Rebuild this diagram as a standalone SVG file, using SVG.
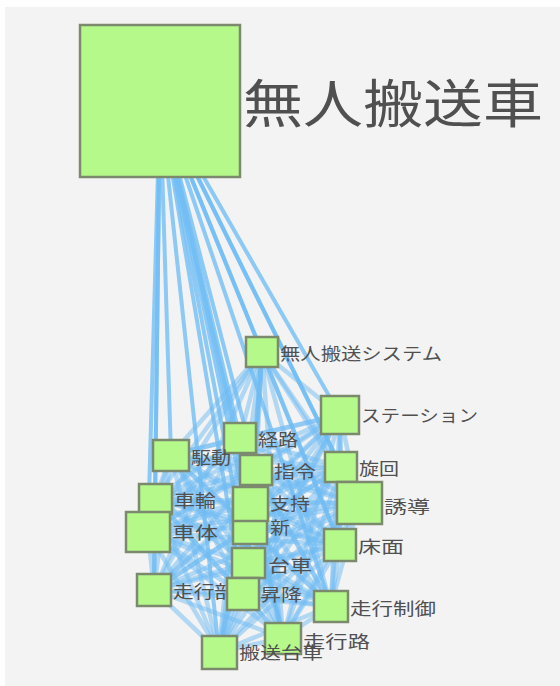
<svg xmlns="http://www.w3.org/2000/svg" width="560" height="686" viewBox="0 0 560 686">
<style>
.bg{fill:#f3f3f3}
.e{stroke:#6fbcf4;stroke-width:4.5;stroke-opacity:0.5;fill:none}
.h{stroke:#72bef5;stroke-width:4;stroke-opacity:0.8;fill:none}
.n{fill:#b5f98b;stroke:#7b8a6c;stroke-width:2.5}
.t{font-family:"Noto Sans CJK JP","Noto Sans",sans-serif;fill:#505050;font-size:17px;dominant-baseline:central}
.big{font-size:52px}
</style>
<rect x="0" y="0" width="560" height="686" fill="#ffffff"/>
<rect class="bg" x="5" y="7" width="555" height="679"/>
<g id="connectors">
<line class="h" x1="160" y1="101" x2="262" y2="352"/>
<line class="h" x1="160" y1="101" x2="340" y2="415"/>
<line class="h" x1="160" y1="101" x2="240" y2="438"/>
<line class="h" x1="160" y1="101" x2="171" y2="455"/>
<line class="h" x1="160" y1="101" x2="256" y2="470"/>
<line class="h" x1="160" y1="101" x2="341" y2="467"/>
<line class="h" x1="160" y1="101" x2="359" y2="503"/>
<line class="h" x1="160" y1="101" x2="155" y2="499"/>
<line class="h" x1="160" y1="101" x2="148" y2="532"/>
<line class="h" x1="160" y1="101" x2="250" y2="504"/>
<line class="h" x1="160" y1="101" x2="250" y2="527"/>
<line class="h" x1="160" y1="101" x2="340" y2="545"/>
<line class="h" x1="160" y1="101" x2="248" y2="563"/>
<line class="h" x1="160" y1="101" x2="154" y2="590"/>
<line class="h" x1="160" y1="101" x2="243" y2="594"/>
<line class="h" x1="160" y1="101" x2="331" y2="606"/>
<line class="h" x1="160" y1="101" x2="283" y2="638"/>
<line class="h" x1="160" y1="101" x2="219" y2="652"/>
<line class="e" x1="262" y1="352" x2="340" y2="415"/>
<line class="e" x1="262" y1="352" x2="240" y2="438"/>
<line class="e" x1="262" y1="352" x2="171" y2="455"/>
<line class="e" x1="262" y1="352" x2="256" y2="470"/>
<line class="e" x1="262" y1="352" x2="341" y2="467"/>
<line class="e" x1="262" y1="352" x2="359" y2="503"/>
<line class="e" x1="262" y1="352" x2="155" y2="499"/>
<line class="e" x1="262" y1="352" x2="148" y2="532"/>
<line class="e" x1="262" y1="352" x2="250" y2="504"/>
<line class="e" x1="262" y1="352" x2="250" y2="527"/>
<line class="e" x1="262" y1="352" x2="340" y2="545"/>
<line class="e" x1="262" y1="352" x2="248" y2="563"/>
<line class="e" x1="262" y1="352" x2="154" y2="590"/>
<line class="e" x1="262" y1="352" x2="243" y2="594"/>
<line class="e" x1="262" y1="352" x2="331" y2="606"/>
<line class="e" x1="262" y1="352" x2="283" y2="638"/>
<line class="e" x1="262" y1="352" x2="219" y2="652"/>
<line class="e" x1="340" y1="415" x2="240" y2="438"/>
<line class="e" x1="340" y1="415" x2="171" y2="455"/>
<line class="e" x1="340" y1="415" x2="256" y2="470"/>
<line class="e" x1="340" y1="415" x2="341" y2="467"/>
<line class="e" x1="340" y1="415" x2="359" y2="503"/>
<line class="e" x1="340" y1="415" x2="155" y2="499"/>
<line class="e" x1="340" y1="415" x2="148" y2="532"/>
<line class="e" x1="340" y1="415" x2="250" y2="504"/>
<line class="e" x1="340" y1="415" x2="250" y2="527"/>
<line class="e" x1="340" y1="415" x2="340" y2="545"/>
<line class="e" x1="340" y1="415" x2="248" y2="563"/>
<line class="e" x1="340" y1="415" x2="154" y2="590"/>
<line class="e" x1="340" y1="415" x2="243" y2="594"/>
<line class="e" x1="340" y1="415" x2="331" y2="606"/>
<line class="e" x1="340" y1="415" x2="283" y2="638"/>
<line class="e" x1="340" y1="415" x2="219" y2="652"/>
<line class="e" x1="240" y1="438" x2="171" y2="455"/>
<line class="e" x1="240" y1="438" x2="256" y2="470"/>
<line class="e" x1="240" y1="438" x2="341" y2="467"/>
<line class="e" x1="240" y1="438" x2="359" y2="503"/>
<line class="e" x1="240" y1="438" x2="155" y2="499"/>
<line class="e" x1="240" y1="438" x2="148" y2="532"/>
<line class="e" x1="240" y1="438" x2="250" y2="504"/>
<line class="e" x1="240" y1="438" x2="250" y2="527"/>
<line class="e" x1="240" y1="438" x2="340" y2="545"/>
<line class="e" x1="240" y1="438" x2="248" y2="563"/>
<line class="e" x1="240" y1="438" x2="154" y2="590"/>
<line class="e" x1="240" y1="438" x2="243" y2="594"/>
<line class="e" x1="240" y1="438" x2="331" y2="606"/>
<line class="e" x1="240" y1="438" x2="283" y2="638"/>
<line class="e" x1="240" y1="438" x2="219" y2="652"/>
<line class="e" x1="171" y1="455" x2="256" y2="470"/>
<line class="e" x1="171" y1="455" x2="341" y2="467"/>
<line class="e" x1="171" y1="455" x2="359" y2="503"/>
<line class="e" x1="171" y1="455" x2="155" y2="499"/>
<line class="e" x1="171" y1="455" x2="148" y2="532"/>
<line class="e" x1="171" y1="455" x2="250" y2="504"/>
<line class="e" x1="171" y1="455" x2="250" y2="527"/>
<line class="e" x1="171" y1="455" x2="340" y2="545"/>
<line class="e" x1="171" y1="455" x2="248" y2="563"/>
<line class="e" x1="171" y1="455" x2="154" y2="590"/>
<line class="e" x1="171" y1="455" x2="243" y2="594"/>
<line class="e" x1="171" y1="455" x2="331" y2="606"/>
<line class="e" x1="171" y1="455" x2="283" y2="638"/>
<line class="e" x1="171" y1="455" x2="219" y2="652"/>
<line class="e" x1="256" y1="470" x2="341" y2="467"/>
<line class="e" x1="256" y1="470" x2="359" y2="503"/>
<line class="e" x1="256" y1="470" x2="155" y2="499"/>
<line class="e" x1="256" y1="470" x2="148" y2="532"/>
<line class="e" x1="256" y1="470" x2="250" y2="504"/>
<line class="e" x1="256" y1="470" x2="250" y2="527"/>
<line class="e" x1="256" y1="470" x2="340" y2="545"/>
<line class="e" x1="256" y1="470" x2="248" y2="563"/>
<line class="e" x1="256" y1="470" x2="154" y2="590"/>
<line class="e" x1="256" y1="470" x2="243" y2="594"/>
<line class="e" x1="256" y1="470" x2="331" y2="606"/>
<line class="e" x1="256" y1="470" x2="283" y2="638"/>
<line class="e" x1="256" y1="470" x2="219" y2="652"/>
<line class="e" x1="341" y1="467" x2="359" y2="503"/>
<line class="e" x1="341" y1="467" x2="155" y2="499"/>
<line class="e" x1="341" y1="467" x2="148" y2="532"/>
<line class="e" x1="341" y1="467" x2="250" y2="504"/>
<line class="e" x1="341" y1="467" x2="250" y2="527"/>
<line class="e" x1="341" y1="467" x2="340" y2="545"/>
<line class="e" x1="341" y1="467" x2="248" y2="563"/>
<line class="e" x1="341" y1="467" x2="154" y2="590"/>
<line class="e" x1="341" y1="467" x2="243" y2="594"/>
<line class="e" x1="341" y1="467" x2="331" y2="606"/>
<line class="e" x1="341" y1="467" x2="283" y2="638"/>
<line class="e" x1="341" y1="467" x2="219" y2="652"/>
<line class="e" x1="359" y1="503" x2="155" y2="499"/>
<line class="e" x1="359" y1="503" x2="148" y2="532"/>
<line class="e" x1="359" y1="503" x2="250" y2="504"/>
<line class="e" x1="359" y1="503" x2="250" y2="527"/>
<line class="e" x1="359" y1="503" x2="340" y2="545"/>
<line class="e" x1="359" y1="503" x2="248" y2="563"/>
<line class="e" x1="359" y1="503" x2="154" y2="590"/>
<line class="e" x1="359" y1="503" x2="243" y2="594"/>
<line class="e" x1="359" y1="503" x2="331" y2="606"/>
<line class="e" x1="359" y1="503" x2="283" y2="638"/>
<line class="e" x1="359" y1="503" x2="219" y2="652"/>
<line class="e" x1="155" y1="499" x2="148" y2="532"/>
<line class="e" x1="155" y1="499" x2="250" y2="504"/>
<line class="e" x1="155" y1="499" x2="250" y2="527"/>
<line class="e" x1="155" y1="499" x2="340" y2="545"/>
<line class="e" x1="155" y1="499" x2="248" y2="563"/>
<line class="e" x1="155" y1="499" x2="154" y2="590"/>
<line class="e" x1="155" y1="499" x2="243" y2="594"/>
<line class="e" x1="155" y1="499" x2="331" y2="606"/>
<line class="e" x1="155" y1="499" x2="283" y2="638"/>
<line class="e" x1="155" y1="499" x2="219" y2="652"/>
<line class="e" x1="148" y1="532" x2="250" y2="504"/>
<line class="e" x1="148" y1="532" x2="250" y2="527"/>
<line class="e" x1="148" y1="532" x2="340" y2="545"/>
<line class="e" x1="148" y1="532" x2="248" y2="563"/>
<line class="e" x1="148" y1="532" x2="154" y2="590"/>
<line class="e" x1="148" y1="532" x2="243" y2="594"/>
<line class="e" x1="148" y1="532" x2="331" y2="606"/>
<line class="e" x1="148" y1="532" x2="283" y2="638"/>
<line class="e" x1="148" y1="532" x2="219" y2="652"/>
<line class="e" x1="250" y1="504" x2="250" y2="527"/>
<line class="e" x1="250" y1="504" x2="340" y2="545"/>
<line class="e" x1="250" y1="504" x2="248" y2="563"/>
<line class="e" x1="250" y1="504" x2="154" y2="590"/>
<line class="e" x1="250" y1="504" x2="243" y2="594"/>
<line class="e" x1="250" y1="504" x2="331" y2="606"/>
<line class="e" x1="250" y1="504" x2="283" y2="638"/>
<line class="e" x1="250" y1="504" x2="219" y2="652"/>
<line class="e" x1="250" y1="527" x2="340" y2="545"/>
<line class="e" x1="250" y1="527" x2="248" y2="563"/>
<line class="e" x1="250" y1="527" x2="154" y2="590"/>
<line class="e" x1="250" y1="527" x2="243" y2="594"/>
<line class="e" x1="250" y1="527" x2="331" y2="606"/>
<line class="e" x1="250" y1="527" x2="283" y2="638"/>
<line class="e" x1="250" y1="527" x2="219" y2="652"/>
<line class="e" x1="340" y1="545" x2="248" y2="563"/>
<line class="e" x1="340" y1="545" x2="154" y2="590"/>
<line class="e" x1="340" y1="545" x2="243" y2="594"/>
<line class="e" x1="340" y1="545" x2="331" y2="606"/>
<line class="e" x1="340" y1="545" x2="283" y2="638"/>
<line class="e" x1="340" y1="545" x2="219" y2="652"/>
<line class="e" x1="248" y1="563" x2="154" y2="590"/>
<line class="e" x1="248" y1="563" x2="243" y2="594"/>
<line class="e" x1="248" y1="563" x2="331" y2="606"/>
<line class="e" x1="248" y1="563" x2="283" y2="638"/>
<line class="e" x1="248" y1="563" x2="219" y2="652"/>
<line class="e" x1="154" y1="590" x2="243" y2="594"/>
<line class="e" x1="154" y1="590" x2="331" y2="606"/>
<line class="e" x1="154" y1="590" x2="283" y2="638"/>
<line class="e" x1="154" y1="590" x2="219" y2="652"/>
<line class="e" x1="243" y1="594" x2="331" y2="606"/>
<line class="e" x1="243" y1="594" x2="283" y2="638"/>
<line class="e" x1="243" y1="594" x2="219" y2="652"/>
<line class="e" x1="331" y1="606" x2="283" y2="638"/>
<line class="e" x1="331" y1="606" x2="219" y2="652"/>
<line class="e" x1="283" y1="638" x2="219" y2="652"/>
</g>
<g id="n1"><rect class="n" x="80" y="25" width="160" height="152"/><text class="t big" x="243" y="100" textLength="300" lengthAdjust="spacingAndGlyphs">無人搬送車</text></g>
<g id="n2"><rect class="n" x="246" y="337" width="32" height="30"/><text class="t" x="280" y="352" textLength="162" lengthAdjust="spacingAndGlyphs">無人搬送システム</text></g>
<g id="n3"><rect class="n" x="321" y="396" width="38" height="38"/><text class="t" x="361" y="414" textLength="117" lengthAdjust="spacingAndGlyphs">ステーション</text></g>
<g id="n4"><rect class="n" x="224" y="423" width="32" height="30"/><text class="t" x="258" y="438" textLength="40" lengthAdjust="spacingAndGlyphs">経路</text></g>
<g id="n5"><rect class="n" x="153" y="440" width="36" height="31"/><text class="t" x="191" y="456" textLength="40" lengthAdjust="spacingAndGlyphs">駆動</text></g>
<g id="n6"><rect class="n" x="240" y="455" width="32" height="30"/><text class="t" x="274" y="470" textLength="42" lengthAdjust="spacingAndGlyphs">指令</text></g>
<g id="n7"><rect class="n" x="325" y="452" width="32" height="30"/><text class="t" x="359" y="467" textLength="40" lengthAdjust="spacingAndGlyphs">旋回</text></g>
<g id="n8"><rect class="n" x="337" y="482" width="45" height="42"/><text class="t" x="384" y="505" textLength="46" lengthAdjust="spacingAndGlyphs">誘導</text></g>
<g id="n9"><rect class="n" x="139" y="484" width="33" height="30"/><text class="t" x="174" y="499" textLength="42" lengthAdjust="spacingAndGlyphs">車輪</text></g>
<g id="n10"><rect class="n" x="126" y="512" width="44" height="40"/><text class="t" x="172" y="531" textLength="46" lengthAdjust="spacingAndGlyphs">車体</text></g>
<g id="n12"><rect class="n" x="233" y="510" width="34" height="34"/><text class="t" x="270" y="526" textLength="20" lengthAdjust="spacingAndGlyphs">新</text></g>
<g id="n11"><rect class="n" x="233" y="487" width="35" height="34"/><text class="t" x="270" y="502" textLength="40" lengthAdjust="spacingAndGlyphs">支持</text></g>
<g id="n13"><rect class="n" x="324" y="529" width="32" height="32"/><text class="t" x="358" y="545" textLength="46" lengthAdjust="spacingAndGlyphs">床面</text></g>
<g id="n14"><rect class="n" x="232" y="548" width="33" height="30"/><text class="t" x="268" y="564" textLength="44" lengthAdjust="spacingAndGlyphs">台車</text></g>
<g id="n15"><rect class="n" x="137" y="574" width="34" height="32"/><text class="t" x="173" y="590" textLength="62" lengthAdjust="spacingAndGlyphs">走行部</text></g>
<g id="n16"><rect class="n" x="227" y="578" width="32" height="32"/><text class="t" x="260" y="593" textLength="42" lengthAdjust="spacingAndGlyphs">昇降</text></g>
<g id="n17"><rect class="n" x="314" y="591" width="34" height="31"/><text class="t" x="350" y="607" textLength="86" lengthAdjust="spacingAndGlyphs">走行制御</text></g>
<g id="n18"><rect class="n" x="265" y="623" width="36" height="31"/><text class="t" x="303" y="640" textLength="67" lengthAdjust="spacingAndGlyphs">走行路</text></g>
<g id="n19"><rect class="n" x="202" y="636" width="35" height="33"/><text class="t" x="239" y="651" textLength="84" lengthAdjust="spacingAndGlyphs">搬送台車</text></g>
</svg>
